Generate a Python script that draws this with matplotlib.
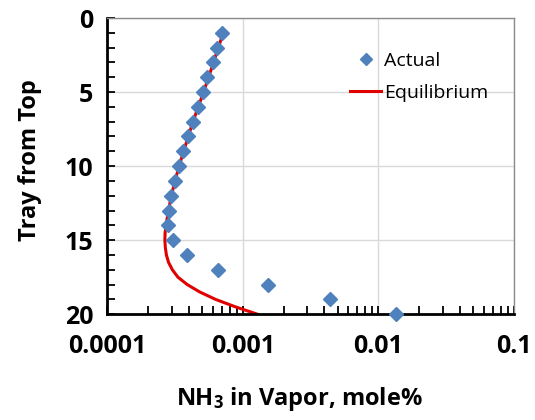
import numpy as np
import matplotlib
matplotlib.use('Agg')
import matplotlib.pyplot as plt
from matplotlib.ticker import LogLocator, FixedLocator, MultipleLocator, NullFormatter

plt.rcParams['font.family'] = ['Open Sans', 'DejaVu Sans']
plt.rcParams['mathtext.fontset'] = 'custom'
plt.rcParams['mathtext.rm'] = 'Open Sans:bold'
plt.rcParams['mathtext.it'] = 'Open Sans:bold'
plt.rcParams['mathtext.bf'] = 'Open Sans:bold'

# tray numbers and NH3 mole% in vapor
trays = [1, 2, 3, 4, 5, 6, 7, 8, 9, 10, 11, 12, 13, 14, 15, 16, 17, 18, 19, 20]
actual = [7.0e-4, 6.45e-4, 6.0e-4, 5.5e-4, 5.07e-4, 4.65e-4, 4.28e-4, 3.95e-4,
          3.65e-4, 3.37e-4, 3.15e-4, 2.98e-4, 2.88e-4, 2.83e-4, 3.05e-4, 3.88e-4,
          6.6e-4, 1.54e-3, 4.37e-3, 1.35e-2]

eq_trays = [1, 2, 3, 4, 5, 6, 7, 8, 9, 10, 11, 12, 13, 14, 14.5, 15, 15.5, 16,
            16.5, 17, 17.5, 18, 18.5, 19, 19.5, 20]
equilibrium = [7.2e-4, 6.6e-4, 6.1e-4, 5.6e-4, 5.15e-4, 4.7e-4, 4.3e-4, 3.97e-4,
               3.67e-4, 3.4e-4, 3.17e-4, 2.98e-4, 2.84e-4, 2.72e-4, 2.68e-4, 2.67e-4,
               2.69e-4, 2.74e-4, 2.84e-4, 3.03e-4, 3.33e-4, 3.9e-4, 4.82e-4, 6.3e-4,
               8.8e-4, 1.28e-3]

fig = plt.figure(figsize=(5.35, 4.2), dpi=100)
ax = fig.add_axes([0.2, 0.252, 0.761, 0.705])

ax.plot(actual, trays, 'D', color='#4f81bd', ms=7.5, mec='#4f81bd', label='Actual',
        zorder=3, clip_on=False)
ax.plot(equilibrium, eq_trays, color='#e00000', lw=2.2, label='Equilibrium', zorder=2)

ax.set_xscale('log')
ax.set_xlim(1e-4, 1e-1)
ax.set_ylim(20, 0)

ax.xaxis.set_major_locator(LogLocator(base=10))
ax.xaxis.set_minor_locator(LogLocator(base=10, subs=np.arange(2, 10)))
ax.xaxis.set_minor_formatter(NullFormatter())
ax.set_xticks([1e-4, 1e-3, 1e-2, 1e-1])
ax.set_xticklabels(['0.0001', '0.001', '0.01', '0.1'])
ax.yaxis.set_major_locator(FixedLocator([0, 5, 10, 15, 20]))
ax.yaxis.set_minor_locator(MultipleLocator(1))

ax.tick_params(which='both', direction='in', top=False, right=False, width=1.3,
               color='black')
ax.tick_params(which='major', length=6, labelsize=18, pad=14)
ax.tick_params(which='minor', length=6)
for lab in ax.get_xticklabels() + ax.get_yticklabels():
    lab.set_fontweight('bold')
ax.tick_params(axis='y', pad=10)

ax.grid(True, which='major', color='#d9d9d9', lw=1)
ax.set_axisbelow(True)
for s in ['left', 'bottom']:
    ax.spines[s].set_linewidth(2)
    ax.spines[s].set_color('black')
for s in ['top', 'right']:
    ax.spines[s].set_linewidth(1)
    ax.spines[s].set_color('#8c8c8c')

ax.set_xlabel('NH$_3$ in Vapor, mole%', fontsize=17, fontweight='bold')
ax.xaxis.set_label_coords(0.472, -0.24)
ax.set_ylabel('Tray from Top', fontsize=17, fontweight='bold')
ax.yaxis.set_label_coords(-0.16, 0.52)

ax.legend(loc='upper left', bbox_to_anchor=(0.597, 0.885), frameon=False, fontsize=14,
          handlelength=1.6, handletextpad=0.15, labelspacing=0.7, markerscale=0.8,
          borderpad=0, borderaxespad=0)

fig.savefig('out.png', dpi=100)
